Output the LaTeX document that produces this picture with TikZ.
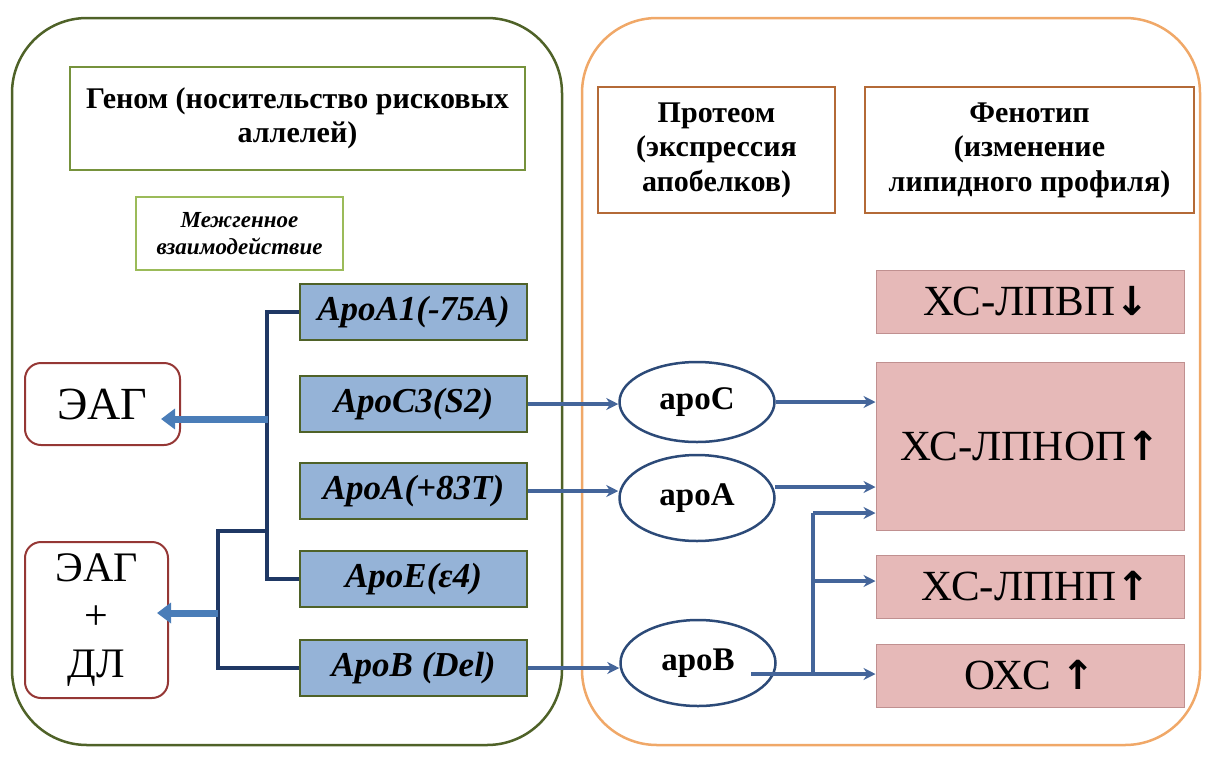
\documentclass[tikz,border=0pt]{standalone}
\usepackage{fontspec}
\setmainfont{Liberation Serif}
\newfontfamily\tnr{Liberation Serif}
\newfontfamily\arrowfont{DejaVu Sans}
\usetikzlibrary{arrows.meta,shapes.geometric}
\definecolor{olivedk}{HTML}{4F6228}
\definecolor{olivemd}{HTML}{76923C}
\definecolor{olivelt}{HTML}{9BBB59}
\definecolor{orangebd}{HTML}{F0A868}
\definecolor{brownbd}{HTML}{B46A37}
\definecolor{bluefill}{HTML}{95B3D7}
\definecolor{redbd}{HTML}{953735}
\definecolor{pinkfill}{HTML}{E6B9B8}
\definecolor{pinkbd}{HTML}{C09090}
\definecolor{navy}{HTML}{1F3864}
\definecolor{steel}{HTML}{44659A}
\definecolor{fatblue}{HTML}{4A7DB8}
\definecolor{ellbd}{HTML}{2C4A78}
\newcommand{\fs}[1]{\fontsize{#1}{1.15\dimexpr #1pt\relax}\selectfont}
\newcommand{\arup}{{\arrowfont\bfseries\fs{40}↑}}
\newcommand{\ardown}{{\arrowfont\bfseries\fs{40}↓}}
\tikzset{
  container/.style={draw, line width=2.5pt, rounded corners=75pt, inner sep=0pt},
  titlebox/.style={draw=olivemd, line width=2.5pt, inner sep=0pt, align=center, font=\tnr\fs{30}\bfseries},
  gene/.style={draw=olivedk, fill=bluefill, line width=2.5pt, minimum width=227pt, minimum height=56pt, inner sep=0pt, font=\tnr\fs{35}\bfseries\itshape},
  eagbox/.style={draw=redbd, line width=2pt, rounded corners=16pt, inner sep=0pt, align=center, font=\tnr\fs{46}},
  headbox/.style={draw=brownbd, line width=2.5pt, inner sep=0pt, align=center, font=\tnr\fs{30}\bfseries},
  pheno/.style={draw=pinkbd, fill=pinkfill, line width=1pt, minimum width=308pt, inner sep=0pt, font=\tnr\fs{43}},
  prot/.style={ellipse, draw=ellbd, fill=white, line width=2.5pt, minimum width=155pt, inner sep=0pt, font=\tnr\fs{33}\bfseries},
  tree/.style={draw=navy, line width=3.5pt},
  link/.style={draw=steel, line width=4pt, -{Stealth[length=12pt,width=12pt]}},
  fat/.style={draw=fatblue, line width=7pt, -{Triangle[length=14pt,width=20pt]}},
}
\begin{document}
\begin{tikzpicture}[x=1pt,y=-1pt]
\useasboundingbox (0,0) rectangle (1205,756);
% containers
\node[container, draw=olivedk, minimum width=550pt, minimum height=727pt] (left) at (287,381.5) {};
\node[container, draw=orangebd, minimum width=618pt, minimum height=727pt] (right) at (891,381.5) {};
% left headers
\node[titlebox, minimum width=455pt, minimum height=103pt] (genome) at (297.5,118.5) {Геном (носительство рисковых\\аллелей)};
\node[titlebox, draw=olivelt, line width=2pt, minimum width=207pt, minimum height=73pt, font=\tnr\fs{23}\bfseries\itshape] (inter) at (239.5,233.5) {Межгенное\\взаимодействие};
% genes
\node[gene] (a1) at (413.5,312) {ApoA1(-75A)};
\node[gene] (c3) at (413.5,404) {ApoC3(S2)};
\node[gene] (a83) at (413.5,491) {ApoA(+83T)};
\node[gene] (e4) at (413.5,579) {ApoE(ε4)};
\node[gene] (bdel) at (413.5,668) {ApoB (Del)};
% outcomes
\node[eagbox, minimum width=155pt, minimum height=82pt] (eag) at (102.5,404) {ЭАГ};
\node[eagbox, minimum width=143pt, minimum height=156pt, font=\tnr\fs{42}] (eagdl) at (96.5,620) {ЭАГ\\+\\ДЛ};
% tree
\draw[tree] (a1.west) -- ++(-32,0) coordinate (bus) |- (e4.west);
\coordinate (j0) at (268,419);
\coordinate (j1) at (268,531);
\coordinate (j2) at (218,613);
\draw[tree] (j1) -- ++(-50,0) |- (bdel.west);
\coordinate (tip1) at (161,419);
\coordinate (tip2) at (157,613);
\draw[fat] (j0) -- (tip1);
\draw[fat] (j2) -- (tip2);
% right headers
\node[headbox, minimum width=237pt, minimum height=126pt] (prot) at (716.5,150) {Протеом\\(экспрессия\\апобелков)};
\node[headbox, minimum width=329pt, minimum height=126pt] (pheno) at (1029.5,150) {Фенотип\\(изменение\\липидного профиля)};
% proteins
\node[prot, minimum height=80pt] (apoC) at (697,402) {apoC};
\node[prot, minimum height=86pt] (apoA) at (697,498) {apoA};
\node[prot, minimum height=86pt] (apoB) at (698,663) {apoB};
% phenotypes
\node[pheno, minimum height=63pt] (hdl) at (1030,301.5) {\hspace*{12pt}ХС-ЛПВП\ardown};
\node[pheno, minimum height=168pt] (ldlo) at (1030,446) {ХС-ЛПНОП\arup};
\node[pheno, minimum height=63pt] (ldl) at (1030,586.5) {\hspace*{12pt}ХС-ЛПНП\arup};
\node[pheno, minimum height=63pt] (oxc) at (1030,675.5) {ОХС \arup};
% links genes -> proteins
\draw[link] (c3.east) -- (c3.east -| apoC.west);
\draw[link] (a83.east) -- (a83.east -| apoA.west);
\draw[link] (bdel.east) -- (bdel.east -| apoB.west);
% links proteins -> phenotypes
\draw[link] (apoC.east) -- (apoC.east -| ldlo.west);
\coordinate (aA) at (775,487);
\draw[link] (aA) -- (aA -| ldlo.west);
\coordinate (bB) at (751,674);
\coordinate (vb) at (813,674);
\coordinate (vt) at (813,513);
\coordinate (vm) at (813,581);
\draw[link] (bB) -- (bB -| oxc.west);
\draw[draw=steel, line width=4pt] (vb) -- (vt);
\draw[link] (vt) -- (vt -| ldlo.west);
\draw[link] (vm) -- (vm -| ldl.west);
\end{tikzpicture}
\end{document}
